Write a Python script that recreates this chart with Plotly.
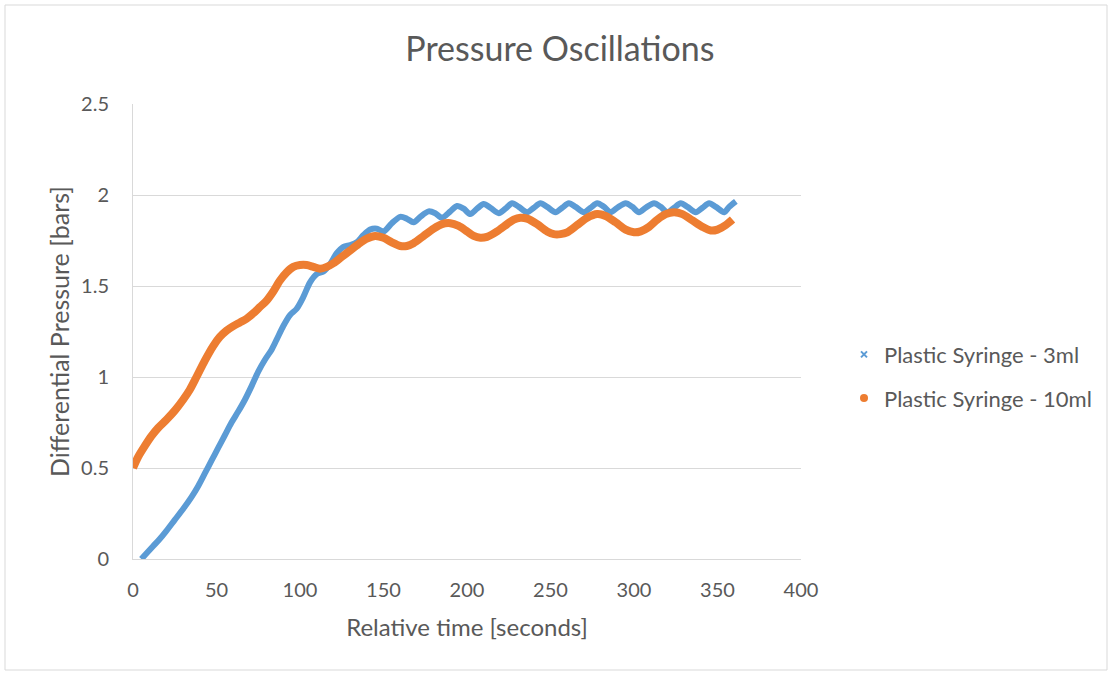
import plotly.graph_objects as go

# ---- data ----
t_10ml = [0, 3, 7, 11, 15, 20, 25, 30, 34, 38, 43, 48, 52, 56, 60, 64, 68, 72, 76, 80,
          84, 88, 92, 96, 100, 104, 108, 112, 116, 120, 125, 130, 135, 140, 145, 150,
          155, 160, 164, 168, 174, 180, 185, 190, 195, 200, 204, 208, 212, 218, 224,
          228, 232, 236, 242, 248, 252, 256, 260, 266, 272, 278, 283, 289, 295, 300,
          304, 309, 314, 319, 324, 329, 335, 341, 346, 350, 355, 359]
p_10ml = [0.50, 0.56, 0.62, 0.675, 0.72, 0.765, 0.815, 0.875, 0.93, 1.00, 1.09, 1.17,
          1.22, 1.255, 1.28, 1.30, 1.32, 1.35, 1.385, 1.42, 1.47, 1.53, 1.575, 1.605,
          1.615, 1.615, 1.605, 1.595, 1.605, 1.625, 1.66, 1.695, 1.73, 1.76, 1.775,
          1.765, 1.74, 1.72, 1.72, 1.735, 1.775, 1.815, 1.84, 1.845, 1.83, 1.80, 1.775,
          1.765, 1.77, 1.80, 1.84, 1.865, 1.875, 1.87, 1.84, 1.80, 1.785, 1.785, 1.795,
          1.835, 1.875, 1.895, 1.885, 1.85, 1.81, 1.795, 1.80, 1.825, 1.865, 1.895,
          1.905, 1.895, 1.86, 1.825, 1.805, 1.81, 1.835, 1.865]

t_3ml = [5, 8, 12, 16, 20, 25, 30, 35, 39, 43, 47, 51, 55, 59, 63, 67, 71, 75, 79, 83,
         86, 90, 94, 98, 102, 106, 110, 114, 118, 122, 126, 130, 134, 138, 142, 146,
         150, 155, 160, 164, 168, 172, 177, 181, 185, 190, 194, 198, 202, 206, 210,
         214, 219, 223, 227, 231, 236, 240, 244, 248, 253, 257, 261, 265, 270, 274,
         278, 282, 286, 290, 295, 299, 303, 307, 312, 316, 320, 324, 328, 332, 337,
         341, 345, 349, 354, 357, 361]
p_3ml = [0.00, 0.03, 0.07, 0.11, 0.155, 0.215, 0.275, 0.34, 0.40, 0.47, 0.54, 0.61,
         0.68, 0.75, 0.81, 0.875, 0.95, 1.03, 1.095, 1.15, 1.205, 1.28, 1.34, 1.375,
         1.44, 1.52, 1.565, 1.58, 1.62, 1.68, 1.715, 1.725, 1.74, 1.78, 1.81, 1.815,
         1.80, 1.845, 1.88, 1.87, 1.85, 1.88, 1.91, 1.90, 1.875, 1.91, 1.94, 1.925,
         1.895, 1.925, 1.95, 1.93, 1.90, 1.925, 1.955, 1.935, 1.905, 1.93, 1.955,
         1.935, 1.905, 1.93, 1.955, 1.935, 1.905, 1.93, 1.955, 1.935, 1.905, 1.93,
         1.955, 1.935, 1.905, 1.93, 1.955, 1.935, 1.905, 1.93, 1.955, 1.935, 1.905,
         1.93, 1.955, 1.935, 1.905, 1.935, 1.965]

names = ["Plastic Syringe - 3ml", "Plastic Syringe - 10ml"]
x_ticks = [0, 50, 100, 150, 200, 250, 300, 350, 400]
y_ticks = [0, 0.5, 1, 1.5, 2, 2.5]
y_ticktext = ["0", "0.5", "1", "1.5", "2", "2.5"]

BLUE = "#5B9BD5"
ORANGE = "#ED7D31"
TXT = "#595959"
GRID = "#D9D9D9"
FONT = "Lato"

fig = go.Figure()
fig.add_trace(go.Scatter(x=t_3ml, y=p_3ml, mode="lines",
                         line=dict(color=BLUE, width=6, shape="spline", smoothing=0.8),
                         showlegend=False, hoverinfo="skip"))
fig.add_trace(go.Scatter(x=t_10ml, y=p_10ml, mode="lines",
                         line=dict(color=ORANGE, width=8, shape="spline", smoothing=0.8),
                         showlegend=False, hoverinfo="skip"))
# legend entries with the reference's marker symbols
fig.add_trace(go.Scatter(x=[None], y=[None], mode="markers", name=names[0],
                         legendgroup="a",
                         marker=dict(symbol="x-thin", size=6, color=BLUE,
                                     line=dict(color=BLUE, width=2))))
fig.add_trace(go.Scatter(x=[None], y=[None], mode="markers", name=names[1],
                         legendgroup="b",
                         marker=dict(symbol="circle", size=8, color=ORANGE)))

fig.update_layout(
    width=1112, height=675,
    margin=dict(l=133, r=311, t=104, b=116),
    paper_bgcolor="white", plot_bgcolor="white",
    font=dict(family=FONT, color=TXT, size=20),
    title=dict(text="Pressure Oscillations", x=0.5035, xanchor="center",
               y=0.928, yanchor="middle", font=dict(size=34, color=TXT, family=FONT)),
    legend=dict(x=(844 - 133) / 668, xanchor="left", y=0.401, yanchor="middle",
                font=dict(size=22, color=TXT), itemwidth=30,
                tracegroupgap=12, bgcolor="rgba(0,0,0,0)"),
    xaxis=dict(range=[0, 400], tickvals=x_ticks, ticktext=[str(v) for v in x_ticks],
               showgrid=False, zeroline=False, showline=True, linecolor=GRID,
               linewidth=1, ticks="", ticklabelstandoff=13, tickfont=dict(size=20),
               title=dict(text="Relative time [seconds]", font=dict(size=24), standoff=19)),
    yaxis=dict(range=[0, 2.5], tickvals=y_ticks, ticktext=y_ticktext,
               showgrid=True, gridcolor=GRID, gridwidth=1, zeroline=False,
               showline=True, linecolor=GRID, linewidth=1, ticks="",
               ticklabelstandoff=19, tickfont=dict(size=20),
               title=dict(text="Differential Pressure [bars]", font=dict(size=25), standoff=4)),
)

# outer chart-area border
fig.add_shape(type="rect", xref="paper", yref="paper",
              x0=(5 - 133) / 668, x1=(1107 - 133) / 668,
              y0=(559 - 670) / 455, y1=(559 - 5) / 455,
              line=dict(color=GRID, width=1), fillcolor="rgba(0,0,0,0)", layer="below")

fig.write_html("out.html")
